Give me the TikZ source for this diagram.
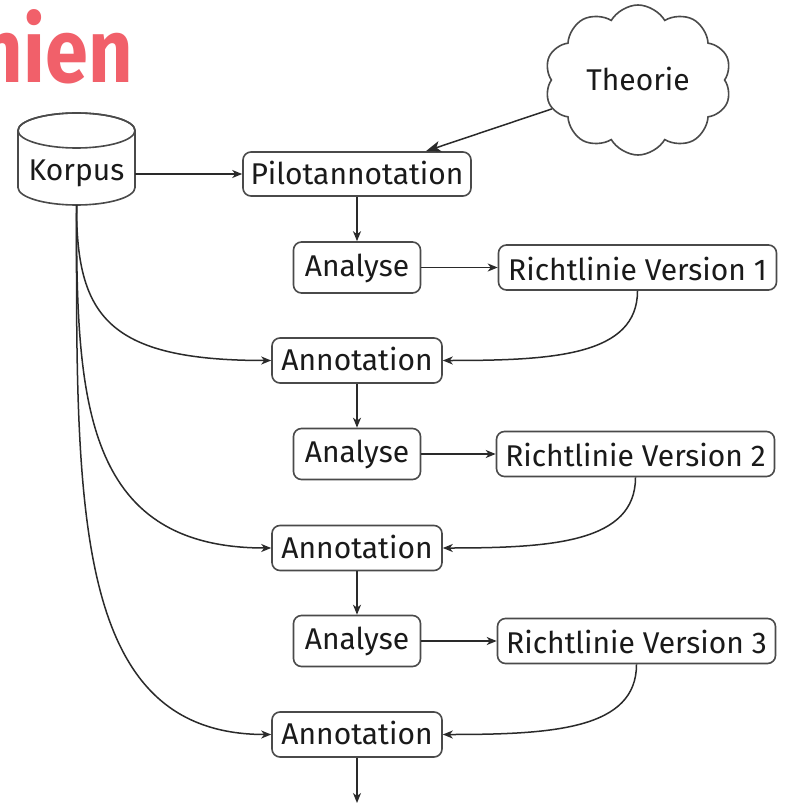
\documentclass[tikz,border=0pt]{standalone}
\usepackage{fontspec}
\setmainfont{Fira Sans}
\usetikzlibrary{shapes.symbols,arrows.meta,calc}
\definecolor{titlered}{HTML}{F1606A}
\definecolor{edgecol}{HTML}{2A2A2A}
\definecolor{bordercol}{HTML}{4A4A4A}
\definecolor{textcol}{HTML}{1A1A1A}
\begin{document}
\begin{tikzpicture}[x=1pt,y=-1pt,
  base/.style={inner sep=0pt, font=\fontsize{30}{36}\selectfont, text=textcol, text height=20.7pt, text depth=0pt},
  box/.style={base, draw=bordercol, line width=1.6pt, rounded corners=8pt, fill=white},
  pilotbox/.style={box, minimum width=228pt, minimum height=44pt},
  anbox/.style={box, text depth=3.7pt, minimum width=127pt, minimum height=51pt},
  annbox/.style={box, minimum width=170pt, minimum height=45pt},
  rlbox/.style={box, text height=25.4pt, minimum width=278pt, minimum height=45pt},
  arr/.style={draw=edgecol, line width=1.5pt, -{Stealth[length=10pt,width=8pt,inset=3pt]}},
  bigarr/.style={draw=edgecol, line width=1.5pt, -{Stealth[length=15pt,width=11pt,inset=4pt]}},
]
\useasboundingbox (0,0) rectangle (786,805);
\fill[white] (0,0) rectangle (786,805);

% title fragment
\node[anchor=base east, inner sep=0pt, font=\fontsize{90}{96}\selectfont\bfseries, text=titlered] (title) at (133,83) {\scalebox{0.86}[1]{nien}};

% Korpus cylinder
\draw[draw=bordercol, line width=1.6pt, fill=white]
  (18,130.5) -- (18,187.5) arc[start angle=180, end angle=0, x radius=58.5, y radius=17.5]
  -- (135,130.5) arc[start angle=0, end angle=-180, x radius=58.5, y radius=17.5] -- cycle;
\draw[draw=bordercol, line width=1.6pt] (76.5,130.5) ellipse[x radius=58.5, y radius=17.5];
\node[base, text depth=8pt, minimum width=117pt] (korpus) at (76.5,174) {Korpus};
\coordinate (kb) at (76.5,205);

% cloud
\node[cloud, cloud puffs=10, cloud puff arc=120, cloud ignores aspect, draw=bordercol, line width=1.6pt,
      base, minimum width=187pt, minimum height=150pt] (theorie) at (638,80) {Theorie};

% boxes
\node[pilotbox] (pilot) at (357,174) {Pilotannotation};
\node[anbox] (an1) at (357,267.5) {Analyse};
\node[rlbox] (rl1) at (637.5,267.5) {Richtlinie Version 1};
\node[annbox] (ann1) at (357,360.5) {Annotation};
\node[anbox] (an2) at (357,454) {Analyse};
\node[rlbox] (rl2) at (635.5,454) {Richtlinie Version 2};
\node[annbox] (ann2) at (357,548) {Annotation};
\node[anbox] (an3) at (357,641) {Analyse};
\node[rlbox] (rl3) at (636.5,641) {Richtlinie Version 3};
\node[annbox] (ann3) at (357,734.5) {Annotation};
\coordinate (endpt) at (357,803);

% connectors
\draw[bigarr] (theorie) -- ($(pilot.north west)!0.8!(pilot.north east)$);
\draw[arr] (korpus) -- (pilot);
\draw[arr] (pilot) -- (an1);
\draw[arr] (an1) -- (rl1);
\draw[arr] (ann1) -- (an2);
\draw[arr] (an2) -- (rl2);
\draw[arr] (ann2) -- (an3);
\draw[arr] (an3) -- (rl3);
\draw[arr] (ann3) -- (endpt);

\draw[arr] (kb) .. controls +(0,110) and +(-165,0) .. (ann1.west);
\draw[arr] (kb) .. controls +(0,190) and +(-190,0) .. (ann2.west);
\draw[arr] (kb) .. controls +(0,300) and +(-200,0) .. (ann3.west);

\draw[arr] (rl1.south) .. controls +(0,65) and +(110,0) .. (ann1.east);
\draw[arr] (rl2.south) .. controls +(0,65) and +(110,0) .. (ann2.east);
\draw[arr] (rl3.south) .. controls +(0,65) and +(110,0) .. (ann3.east);
\end{tikzpicture}
\end{document}
